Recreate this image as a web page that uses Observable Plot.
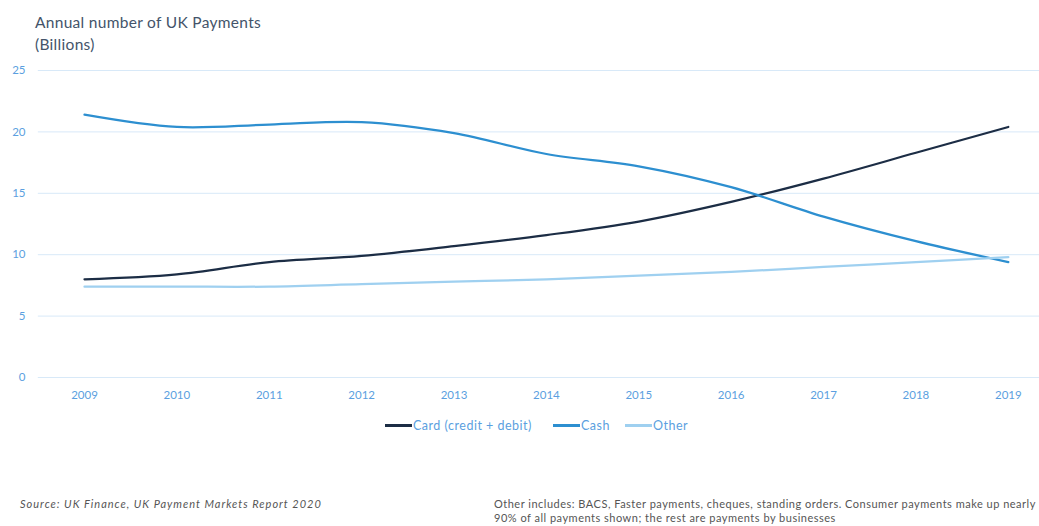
<!DOCTYPE html>
<html>
<head>
<meta charset="utf-8">
<script src="https://cdn.jsdelivr.net/npm/d3@7"></script>
<script src="https://cdn.jsdelivr.net/npm/@observablehq/plot@0.6"></script>
<style>
  html, body { margin: 0; padding: 0; width: 1039px; height: 526px; overflow: hidden; background: #fff; font-family: Lato, "Open Sans", sans-serif; }
  #title { position: absolute; left: 35px; top: 11px; font-size: 15.5px; letter-spacing: 0.3px; line-height: 22px; color: #44546a; }
  #chart { position: absolute; left: 0; top: 0; }
  #legend { position: absolute; left: 0; top: 418px; width: 1039px; display: flex; justify-content: flex-start; font-size: 12.5px; letter-spacing: 0.5px; color: #5b9fe0; }
  #legend .item { display: flex; align-items: center; }
  #legend .sw { width: 27px; height: 3px; margin-right: 1px; }
  #src { position: absolute; left: 20px; top: 497px; font-size: 11px; letter-spacing: 1px; font-style: italic; color: #555; }
  #note { position: absolute; left: 494px; top: 497px; font-size: 11px; letter-spacing: 0.5px; line-height: 14px; color: #555; white-space: nowrap; }
</style>
</head>
<body>
<div id="title">Annual number of UK Payments<br>(Billions)</div>
<div id="chart"></div>
<div id="legend"></div>
<div id="src">Source: UK Finance, UK Payment Markets Report 2020</div>
<div id="note">Other includes: BACS, Faster payments, cheques, standing orders. Consumer payments make up nearly<br>90% of all payments shown; the rest are payments by businesses</div>
<script>
const years = [2009, 2010, 2011, 2012, 2013, 2014, 2015, 2016, 2017, 2018, 2019];
const card  = [8.0, 8.4, 9.4, 9.9, 10.7, 11.6, 12.7, 14.3, 16.2, 18.3, 20.4];
const cash  = [21.4, 20.4, 20.6, 20.8, 19.9, 18.2, 17.2, 15.5, 13.1, 11.1, 9.4];
const other = [7.4, 7.4, 7.4, 7.6, 7.8, 8.0, 8.3, 8.6, 9.0, 9.4, 9.8];
const yTicks = [0, 5, 10, 15, 20, 25];
const seriesNames = ["Card (credit + debit)", "Cash", "Other"];
const seriesColors = ["#1c2d45", "#2d8fd0", "#9fd0f0"];

const seriesValues = [card, cash, other];
const rows = [];
seriesNames.forEach((name, i) => {
  years.forEach((yr, j) => rows.push({series: name, year: yr, value: seriesValues[i][j]}));
});

const plot = Plot.plot({
  width: 1039,
  height: 410,
  marginTop: 70,
  marginBottom: 33,
  marginLeft: 38,
  marginRight: 0,
  style: {fontFamily: "Lato, sans-serif", fontSize: "11.5px", color: "#5b9fe0", background: "transparent"},
  x: {type: "linear", domain: [2008.5, 2019.5], range: [37.8, 1054], ticks: years, tickFormat: "d", tickSize: 0, tickPadding: 13, label: null},
  y: {domain: [0, 25], ticks: yTicks, tickSize: 0, tickPadding: 13, label: null},
  color: {domain: seriesNames, range: seriesColors},
  marks: [
    Plot.ruleY(yTicks, {x1: 2008.5, x2: 2019.5, stroke: "#d8e9f8", strokeWidth: 1}),
    Plot.axisX({ticks: years, tickFormat: "d", tickSize: 0, tickPadding: 13, fill: "#5b9fe0", label: null}),
    Plot.axisY({ticks: yTicks, tickSize: 0, tickPadding: 13, fill: "#5b9fe0", label: null}),
    Plot.line(rows, {x: "year", y: "value", z: "series", stroke: "series", strokeWidth: 2.25, curve: "catmull-rom"})
  ]
});
document.getElementById("chart").appendChild(plot);

const legend = document.getElementById("legend");
const legendLeft = [385, 553, 625];
seriesNames.forEach((name, i) => {
  const item = document.createElement("div");
  item.className = "item";
  item.style.position = "absolute";
  item.style.left = legendLeft[i] + "px";
  const sw = document.createElement("div");
  sw.className = "sw";
  sw.style.background = seriesColors[i];
  const t = document.createElement("span");
  t.textContent = name;
  item.appendChild(sw);
  item.appendChild(t);
  legend.appendChild(item);
});
</script>
</body>
</html>
